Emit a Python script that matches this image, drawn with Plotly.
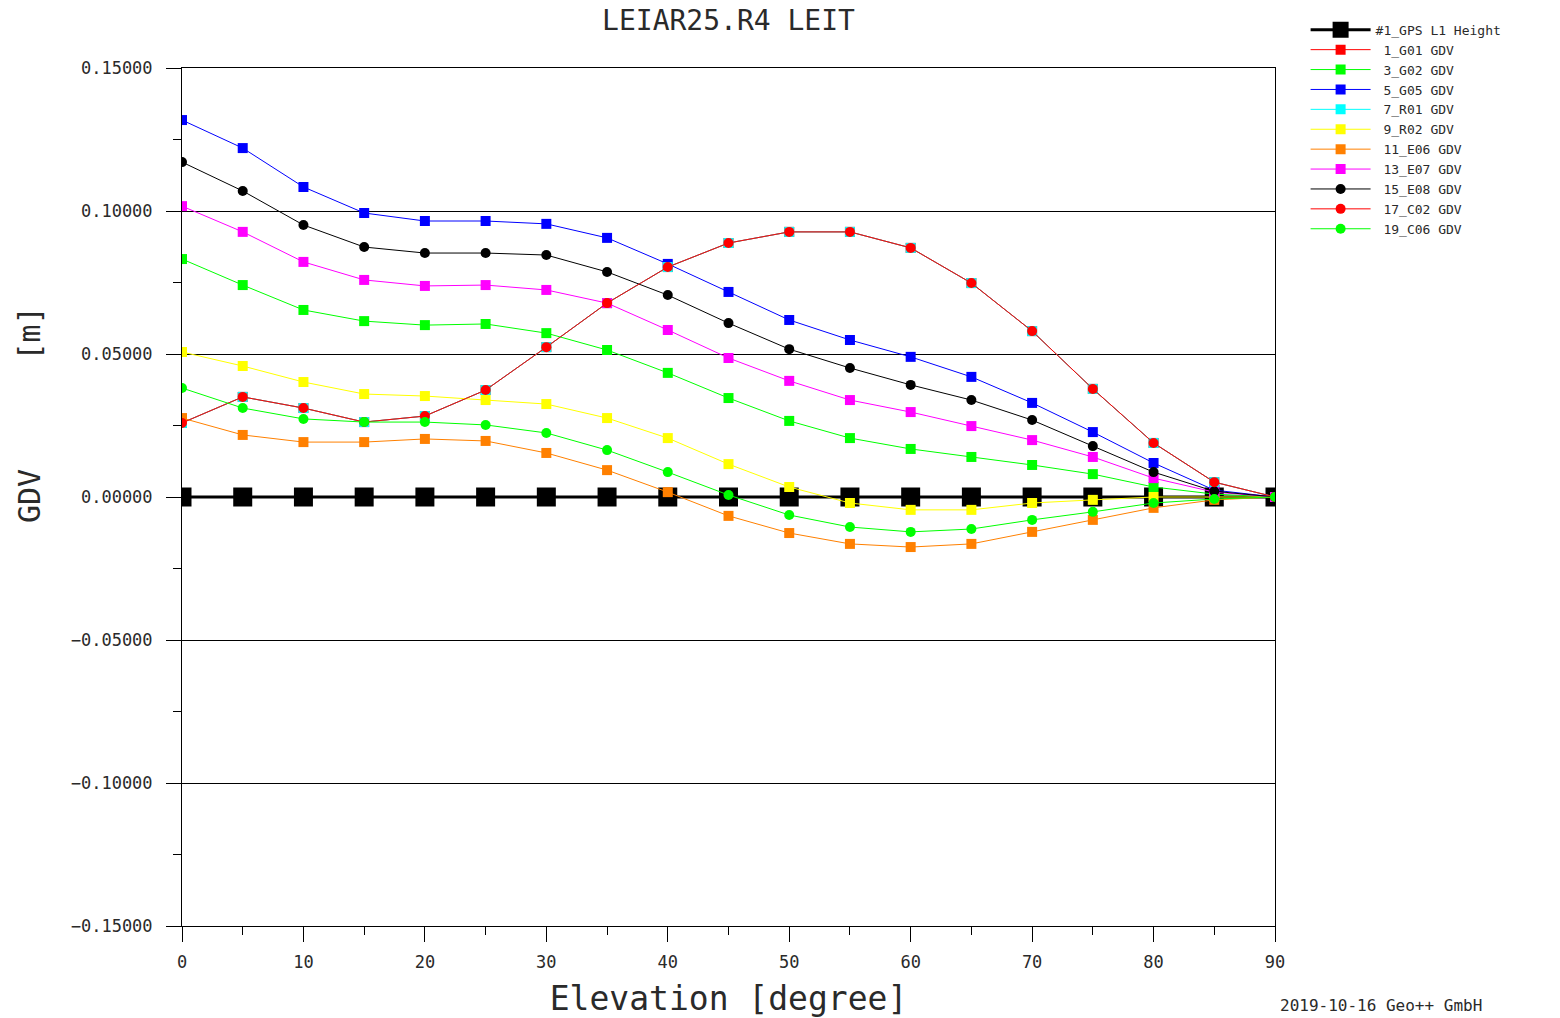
import plotly.graph_objects as go

elevation = [0, 5, 10, 15, 20, 25, 30, 35, 40, 45, 50, 55, 60, 65, 70, 75, 80, 85, 90]

gps_l1_height = [0.0] * 19
c02_gdv = [0.0259, 0.0350, 0.0311, 0.0262, 0.0283, 0.0374, 0.0524, 0.0678, 0.0804, 0.0888,
           0.0927, 0.0927, 0.0871, 0.0748, 0.0580, 0.0378, 0.0189, 0.0052, 0.0]
g01_gdv = list(c02_gdv)
r01_gdv = list(c02_gdv)
g02_gdv = [0.0832, 0.0741, 0.0654, 0.0615, 0.0601, 0.0605, 0.0573, 0.0514, 0.0434, 0.0346,
           0.0266, 0.0206, 0.0168, 0.0140, 0.0112, 0.0080, 0.0035, 0.0010, 0.0]
g05_gdv = [0.1318, 0.1220, 0.1084, 0.0993, 0.0965, 0.0965, 0.0955, 0.0906, 0.0815, 0.0717,
           0.0619, 0.0549, 0.0490, 0.0420, 0.0329, 0.0227, 0.0119, 0.0024, 0.0]
r02_gdv = [0.0507, 0.0458, 0.0402, 0.0360, 0.0353, 0.0339, 0.0325, 0.0276, 0.0206, 0.0115,
           0.0035, -0.0021, -0.0045, -0.0045, -0.0021, -0.0010, 0.0, 0.0, 0.0]
e06_gdv = [0.0276, 0.0217, 0.0192, 0.0192, 0.0203, 0.0196, 0.0154, 0.0094, 0.0017, -0.0066,
           -0.0126, -0.0164, -0.0175, -0.0164, -0.0122, -0.0080, -0.0038, -0.0010, 0.0]
e07_gdv = [0.1017, 0.0927, 0.0822, 0.0759, 0.0738, 0.0741, 0.0724, 0.0678, 0.0584, 0.0486,
           0.0406, 0.0339, 0.0297, 0.0248, 0.0199, 0.0140, 0.0066, 0.0017, 0.0]
e08_gdv = [0.1171, 0.1070, 0.0951, 0.0874, 0.0853, 0.0853, 0.0846, 0.0787, 0.0706, 0.0608,
           0.0517, 0.0451, 0.0392, 0.0339, 0.0269, 0.0178, 0.0087, 0.0020, 0.0]
c06_gdv = [0.0381, 0.0311, 0.0273, 0.0262, 0.0262, 0.0252, 0.0224, 0.0164, 0.0087, 0.0007,
           -0.0063, -0.0105, -0.0122, -0.0112, -0.0080, -0.0052, -0.0021, -0.0007, 0.0]

y_tick_vals = [-0.15, -0.10, -0.05, 0.0, 0.05, 0.10, 0.15]
y_tick_text = ["\u22120.15000", "\u22120.10000", "\u22120.05000", "0.00000", "0.05000", "0.10000", "0.15000"]
x_tick_vals = [0, 10, 20, 30, 40, 50, 60, 70, 80, 90]

FONT = "DejaVu Sans Mono"
TXT = "#2a2a2a"

series = [
    ("#1_GPS L1 Height", gps_l1_height, "#000000", "square"),
    ("&nbsp;1_G01 GDV", g01_gdv, "#ff0000", "square"),
    ("&nbsp;3_G02 GDV", g02_gdv, "#00ff00", "square"),
    ("&nbsp;5_G05 GDV", g05_gdv, "#0000ff", "square"),
    ("&nbsp;7_R01 GDV", r01_gdv, "#00ffff", "square"),
    ("&nbsp;9_R02 GDV", r02_gdv, "#ffff00", "square"),
    ("&nbsp;11_E06 GDV", e06_gdv, "#ff8000", "square"),
    ("&nbsp;13_E07 GDV", e07_gdv, "#ff00ff", "square"),
    ("&nbsp;15_E08 GDV", e08_gdv, "#000000", "circle"),
    ("&nbsp;17_C02 GDV", c02_gdv, "#ff0000", "circle"),
    ("&nbsp;19_C06 GDV", c06_gdv, "#00ff00", "circle"),
]

fig = go.Figure()
for i, (name, vals, color, sym) in enumerate(series):
    if i == 0:
        fig.add_trace(go.Scatter(
            x=elevation, y=vals, name=name, mode="lines+markers",
            line=dict(color=color, width=3),
            marker=dict(symbol=sym, size=19, color=color),
        ))
    else:
        fig.add_trace(go.Scatter(
            x=elevation, y=vals, name=name, mode="lines+markers",
            line=dict(color=color, width=1),
            marker=dict(symbol=sym, size=10, color=color, line=dict(width=0)),
        ))

fig.update_layout(
    width=1560, height=1018,
    margin=dict(l=182, r=285, t=68, b=92, autoexpand=False),
    paper_bgcolor="white", plot_bgcolor="white",
    font=dict(family=FONT, color=TXT),
    title=dict(text="LEIAR25.R4 LEIT", x=0.467, xanchor="center", y=0.980, yanchor="middle",
               font=dict(family=FONT, size=28, color=TXT)),
    xaxis=dict(
        range=[0, 90], tickvals=x_tick_vals, ticks="outside", ticklen=15, tickcolor="#000",
        tickfont=dict(family=FONT, size=17, color=TXT), ticklabelstandoff=6,
        minor=dict(dtick=5, ticks="outside", ticklen=8, tickcolor="#000", showgrid=False),
        showgrid=False, zeroline=False, automargin=False,
        showline=True, linecolor="#000", linewidth=1, mirror=True,
        title=dict(text="Elevation [degree]", font=dict(family=FONT, size=33, color=TXT), standoff=18),
    ),
    yaxis=dict(
        range=[-0.15, 0.15], tickvals=y_tick_vals, ticktext=y_tick_text,
        ticks="outside", ticklen=15, tickcolor="#000",
        tickfont=dict(family=FONT, size=17, color=TXT), ticklabelstandoff=10,
        minor=dict(dtick=0.025, ticks="outside", ticklen=8, tickcolor="#000", showgrid=False),
        showgrid=True, gridcolor="#000", gridwidth=1, zeroline=False, automargin=False,
        showline=True, linecolor="#000", linewidth=1, mirror=True,
    ),
    legend=dict(
        x=1.028, xanchor="left", y=1.062, yanchor="top",
        font=dict(family=FONT, size=13, color=TXT),
        bgcolor="rgba(0,0,0,0)", borderwidth=0, tracegroupgap=0,
        itemwidth=60,
    ),
    showlegend=True,
)

fig.add_annotation(
    text="GDV      [m]", textangle=-90, xref="paper", yref="paper",
    x=-0.139, y=0.5956, xanchor="center", yanchor="middle", showarrow=False,
    font=dict(family=FONT, size=30, color=TXT),
)
fig.add_annotation(
    text="2019-10-16 Geo++ GmbH", xref="paper", yref="paper",
    x=1.003, y=-0.1055, xanchor="left", yanchor="bottom", showarrow=False,
    font=dict(family=FONT, size=16, color=TXT),
)

fig.write_html("out.html")
